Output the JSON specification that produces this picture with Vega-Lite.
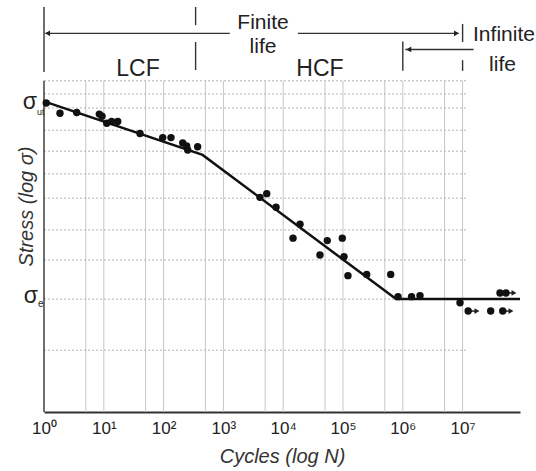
{
  "$schema": "https://vega.github.io/schema/vega-lite/v6.json",
  "autosize": {"type": "none"},
  "padding": {"left": 44, "right": 16, "top": 0, "bottom": 59},
  "width": 476,
  "height": 412,
  "background": "white",
  "config": {"view": {"stroke": null}, "font": "Liberation Sans"},
  "datasets": {
    "tests": [
      {"N": 1.09, "s": 75.0}, {"N": 1.85, "s": 72.5}, {"N": 3.52, "s": 72.7}, {"N": 8.41, "s": 72.3},
      {"N": 9.33, "s": 71.8}, {"N": 11.2, "s": 70.1}, {"N": 13.5, "s": 70.5}, {"N": 17.1, "s": 70.5},
      {"N": 40.3, "s": 67.6}, {"N": 96.6, "s": 66.6}, {"N": 133, "s": 66.6}, {"N": 209, "s": 65.3},
      {"N": 243, "s": 64.6}, {"N": 253, "s": 63.6}, {"N": 371, "s": 64.4},
      {"N": 4090, "s": 52.1}, {"N": 5300, "s": 53.0}, {"N": 7590, "s": 49.7}, {"N": 19100, "s": 45.6},
      {"N": 14600, "s": 42.2}, {"N": 54600, "s": 41.6}, {"N": 41200, "s": 38.1}, {"N": 97300, "s": 42.2},
      {"N": 104000, "s": 37.7}, {"N": 121000, "s": 33.1}, {"N": 249000, "s": 33.4}, {"N": 628000, "s": 33.4},
      {"N": 832000, "s": 28.0}, {"N": 1400000, "s": 28.0}, {"N": 1940000, "s": 28.2}, {"N": 9050000, "s": 26.5}
    ],
    "runouts": [
      {"N": 12400000, "N2": 17400000, "s": 24.5},
      {"N": 29500000, "s": 24.5},
      {"N": 46900000, "N2": 64500000, "s": 24.5},
      {"N": 42200000, "s": 28.9},
      {"N": 53200000, "N2": 72400000, "s": 28.9}
    ],
    "curve": [
      {"N": 1, "s": 75.4}, {"N": 449, "s": 62.4}, {"N": 773000, "s": 27.4}, {"N": 91200000, "s": 27.4}
    ],
    "vgrid": [
      {"N": 5}, {"N": 10}, {"N": 50}, {"N": 100}, {"N": 500}, {"N": 1000}, {"N": 5000}, {"N": 10000},
      {"N": 50000}, {"N": 100000}, {"N": 500000}, {"N": 1000000}, {"N": 5000000}, {"N": 10000000}
    ],
    "hgrid": [
      {"s": 80.4}, {"s": 77.2}, {"s": 73.8}, {"s": 68.4}, {"s": 63.3}, {"s": 57.8},
      {"s": 51.9}, {"s": 44.2}, {"s": 36.9}, {"s": 27.4}, {"s": 15.0}
    ],
    "lines": [
      {"N": 1, "N2": 1, "s": 0, "s2": 80.4},
      {"N": 1, "N2": 1, "s": 82.5, "s2": 98.3},
      {"N": 1.05, "N2": 1280, "s": 91.9, "s2": 91.9},
      {"N": 17600, "N2": 8600000, "s": 91.9, "s2": 91.9},
      {"N": 10000000, "N2": 10000000, "s": 89.8, "s2": 94.2},
      {"N": 1100000, "N2": 15300000, "s": 88.0, "s2": 88.0},
      {"N": 1000000, "N2": 1000000, "s": 82.8, "s2": 89.9},
      {"N": 10000000, "N2": 10000000, "s": 82.8, "s2": 85.4},
      {"N": 343, "N2": 343, "s": 93.9, "s2": 98.3},
      {"N": 343, "N2": 343, "s": 83.0, "s2": 89.8}
    ],
    "heads": [
      {"N": 1.15, "s": 91.9, "dir": "left"},
      {"N": 7900000, "s": 91.9, "dir": "right"},
      {"N": 1260000, "s": 88.0, "dir": "left"},
      {"N": 17400000, "s": 24.5, "dir": "right"},
      {"N": 64500000, "s": 24.5, "dir": "right"},
      {"N": 72400000, "s": 28.9, "dir": "right"}
    ],
    "regions": [
      {"N": 37.3, "s": 81.6, "label": "LCF"},
      {"N": 41200, "s": 81.6, "label": "HCF"}
    ],
    "lives": [
      {"N": 4590, "s": 92.9, "label": "Finite"},
      {"N": 4590, "s": 87.1, "label": "life"},
      {"N": 49200000, "s": 90.0, "label": "Infinite"},
      {"N": 46500000, "s": 82.8, "label": "life"}
    ],
    "sigma": [
      {"s": 75.4, "label": "σ", "sub": "ut"},
      {"s": 27.4, "label": "σ", "sub": "e"}
    ]
  },
  "layer": [
    {
      "data": {"name": "vgrid"},
      "mark": {"type": "rule", "color": "#c6c6c6", "strokeWidth": 1},
      "encoding": {
        "x": {
          "field": "N", "type": "quantitative",
          "scale": {"type": "log", "domain": [1, 91200000], "nice": false},
          "axis": {
            "values": [1, 10, 100, 1000, 10000, 100000, 1000000, 10000000],
            "labelExpr": "'10' + ['⁰','¹','²','³','⁴','⁵','⁶','⁷'][round(log(datum.value)/LN10)]",
            "grid": false, "ticks": false, "domainColor": "#333333", "domainWidth": 2,
            "labelFontSize": 17, "labelColor": "#222222", "labelPadding": 8, "labelFlush": false,
            "title": "Cycles (log N)", "titleFontSize": 20, "titleFontStyle": "italic", "titleFontWeight": "normal",
            "titlePadding": 10, "titleColor": "#333333"
          }
        },
        "y": {
          "datum": 0, "type": "quantitative",
          "scale": {"domain": [0, 100], "nice": false, "zero": true},
          "axis": {
            "title": "Stress (log σ)", "labels": false, "ticks": false, "domain": false, "grid": false,
            "titleFontSize": 20, "titleFontStyle": "italic", "titleFontWeight": "normal",
            "titlePadding": 8, "titleColor": "#333333"
          }
        },
        "y2": {"datum": 80.4}
      }
    },
    {
      "data": {"name": "hgrid"},
      "mark": {"type": "rule", "color": "#b4b4b4", "strokeWidth": 1, "strokeDash": [2, 2]},
      "encoding": {
        "x": {"datum": 1, "type": "quantitative"},
        "x2": {"datum": 11500000},
        "y": {"field": "s", "type": "quantitative"}
      }
    },
    {
      "data": {"name": "lines"},
      "mark": {"type": "rule", "color": "#333333", "strokeWidth": 1.4},
      "encoding": {
        "x": {"field": "N", "type": "quantitative"},
        "x2": {"field": "N2"},
        "y": {"field": "s", "type": "quantitative"},
        "y2": {"field": "s2"}
      }
    },
    {
      "data": {"name": "heads"},
      "mark": {"type": "point", "filled": true, "color": "#222222", "size": 32, "opacity": 1},
      "encoding": {
        "x": {"field": "N", "type": "quantitative"},
        "y": {"field": "s", "type": "quantitative"},
        "shape": {"field": "dir", "type": "nominal", "scale": {"domain": ["left", "right"], "range": ["triangle-left", "triangle-right"]}, "legend": null}
      }
    },
    {
      "data": {"name": "curve"},
      "mark": {"type": "line", "color": "#111111", "strokeWidth": 2.5},
      "encoding": {
        "x": {"field": "N", "type": "quantitative"},
        "y": {"field": "s", "type": "quantitative"}
      }
    },
    {
      "data": {"name": "runouts"},
      "transform": [{"filter": "isValid(datum.N2)"}],
      "mark": {"type": "rule", "color": "#222222", "strokeWidth": 1.5},
      "encoding": {
        "x": {"field": "N", "type": "quantitative"},
        "x2": {"field": "N2"},
        "y": {"field": "s", "type": "quantitative"}
      }
    },
    {
      "data": {"name": "runouts"},
      "mark": {"type": "point", "filled": true, "color": "#111111", "size": 55, "opacity": 1},
      "encoding": {
        "x": {"field": "N", "type": "quantitative"},
        "y": {"field": "s", "type": "quantitative"}
      }
    },
    {
      "data": {"name": "tests"},
      "mark": {"type": "point", "filled": true, "color": "#111111", "size": 55, "opacity": 1},
      "encoding": {
        "x": {"field": "N", "type": "quantitative"},
        "y": {"field": "s", "type": "quantitative"}
      }
    },
    {
      "data": {"name": "regions"},
      "mark": {"type": "text", "fontSize": 23, "color": "#222222", "align": "center", "baseline": "alphabetic"},
      "encoding": {
        "x": {"field": "N", "type": "quantitative"},
        "y": {"field": "s", "type": "quantitative"},
        "text": {"field": "label"}
      }
    },
    {
      "data": {"name": "lives"},
      "mark": {"type": "text", "fontSize": 21, "color": "#222222", "align": "center", "baseline": "alphabetic"},
      "encoding": {
        "x": {"field": "N", "type": "quantitative"},
        "y": {"field": "s", "type": "quantitative"},
        "text": {"field": "label"}
      }
    },
    {
      "data": {"name": "sigma"},
      "transform": [{"filter": "datum.sub == 'ut'"}],
      "layer": [
        {
          "mark": {"type": "text", "fontSize": 23, "color": "#222222", "align": "right", "baseline": "alphabetic", "dx": -7, "dy": 8},
          "encoding": {
            "x": {"datum": 1, "type": "quantitative"},
            "y": {"field": "s", "type": "quantitative"},
            "text": {"field": "label"}
          }
        },
        {
          "mark": {"type": "text", "fontSize": 9, "color": "#222222", "align": "left", "baseline": "alphabetic", "dx": -7, "dy": 14},
          "encoding": {
            "x": {"datum": 1, "type": "quantitative"},
            "y": {"field": "s", "type": "quantitative"},
            "text": {"field": "sub"}
          }
        }
      ]
    },
    {
      "data": {"name": "sigma"},
      "transform": [{"filter": "datum.sub == 'e'"}],
      "layer": [
        {
          "mark": {"type": "text", "fontSize": 23, "color": "#222222", "align": "right", "baseline": "alphabetic", "dx": -6, "dy": 4},
          "encoding": {
            "x": {"datum": 1, "type": "quantitative"},
            "y": {"field": "s", "type": "quantitative"},
            "text": {"field": "label"}
          }
        },
        {
          "mark": {"type": "text", "fontSize": 10, "color": "#222222", "align": "left", "baseline": "alphabetic", "dx": -6, "dy": 8},
          "encoding": {
            "x": {"datum": 1, "type": "quantitative"},
            "y": {"field": "s", "type": "quantitative"},
            "text": {"field": "sub"}
          }
        }
      ]
    }
  ]
}
